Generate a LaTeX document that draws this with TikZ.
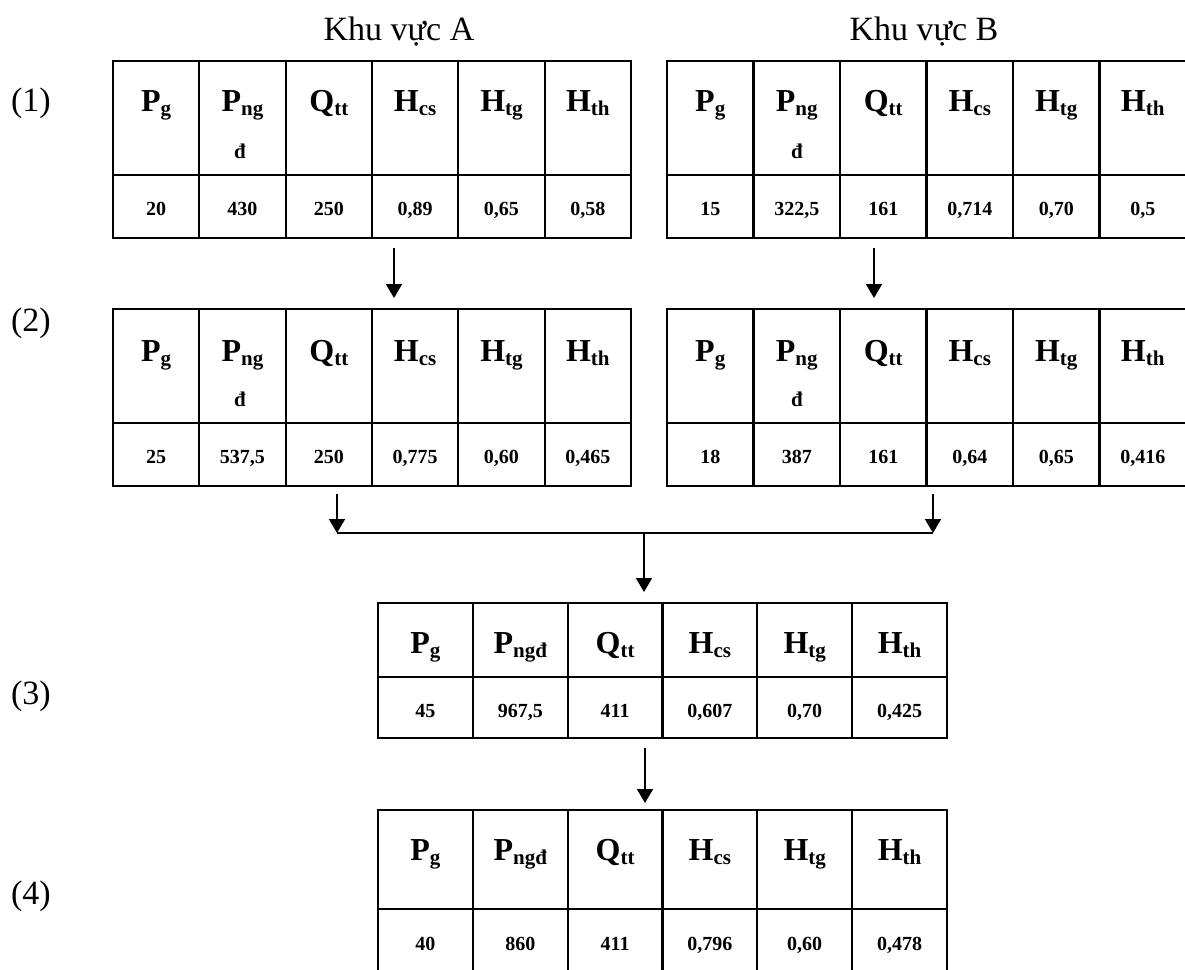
\documentclass[tikz,border=0pt]{standalone}
\usepackage{fontspec}
\setmainfont{Liberation Serif}
\usetikzlibrary{arrows.meta}
\newcommand\Hd[2]{#1\raisebox{-4pt}{\fontsize{21}{21}\selectfont #2}}
\newcommand\mkgrid[6]{%
  \node[frame, anchor=north west, minimum width={6*#3}, minimum height={#6-#4}] (#1) at (#2,#4) {};
  \draw[gridline] (#2,#5) -- ({#2+6*#3},#5);
  \foreach \i in {1,...,5} {\draw[gridline] ({#2+\i*#3},#4) -- ({#2+\i*#3},#6);}
}
\newcommand\mkrow[6]{% name, style, x0, cw, baseline, list
  \foreach \t [count=\i] in {#6} {\node[#2] (#1\i) at ({#3+(\i-0.5)*#4},#5) {\t};}
}
\tikzset{
  frame/.style={draw, line width=2.3pt, inner sep=0pt, outer sep=0pt},
  gridline/.style={line width=2.3pt},
  hd/.style={anchor=base, inner sep=0pt, font=\fontsize{32}{32}\selectfont\bfseries},
  sub2/.style={anchor=base, inner sep=0pt, font=\fontsize{21}{21}\selectfont\bfseries},
  val/.style={anchor=base, inner sep=0pt, font=\fontsize{20}{20}\selectfont\bfseries},
  lbl/.style={anchor=base, inner sep=0pt, font=\fontsize{34}{34}\selectfont},
  arr/.style={line width=1.8pt, -{Triangle[width=16pt,length=14pt]}},
  link/.style={line width=1.8pt},
}
\begin{document}
\begin{tikzpicture}[x=1pt,y=-1pt]
\useasboundingbox (0,0) rectangle (1185,969);
% titles and step labels
\node[lbl] (kA) at (399,40) {Khu vực A};
\node[lbl] (kB) at (924,40) {Khu vực B};
\node[lbl] (s1) at (31,111) {(1)};
\node[lbl] (s2) at (31,331) {(2)};
\node[lbl] (s3) at (31,704) {(3)};
\node[lbl] (s4) at (31,904) {(4)};
% table A1
\mkgrid{A1}{113}{86.33}{61}{175}{238}
\mkrow{A1h}{hd}{113}{86.33}{111}{\Hd{P}{g},\Hd{P}{ng},\Hd{Q}{tt},\Hd{H}{cs},\Hd{H}{tg},\Hd{H}{th}}
\node[sub2] (A1d) at (240,158) {đ};
\mkrow{A1v}{val}{113}{86.33}{215}{20,430,250,{0,89},{0,65},{0,58}}
% table B1
\mkgrid{B1}{667}{86.5}{61}{175}{238}
\mkrow{B1h}{hd}{667}{86.5}{111}{\Hd{P}{g},\Hd{P}{ng},\Hd{Q}{tt},\Hd{H}{cs},\Hd{H}{tg},\Hd{H}{th}}
\node[sub2] (B1d) at (797,158) {đ};
\mkrow{B1v}{val}{667}{86.5}{215}{15,{322,5},161,{0,714},{0,70},{0,5}}
% table A2
\mkgrid{A2}{113}{86.33}{309}{423}{486}
\mkrow{A2h}{hd}{113}{86.33}{361}{\Hd{P}{g},\Hd{P}{ng},\Hd{Q}{tt},\Hd{H}{cs},\Hd{H}{tg},\Hd{H}{th}}
\node[sub2] (A2d) at (240,406) {đ};
\mkrow{A2v}{val}{113}{86.33}{463}{25,{537,5},250,{0,775},{0,60},{0,465}}
% table B2
\mkgrid{B2}{667}{86.5}{309}{423}{486}
\mkrow{B2h}{hd}{667}{86.5}{361}{\Hd{P}{g},\Hd{P}{ng},\Hd{Q}{tt},\Hd{H}{cs},\Hd{H}{tg},\Hd{H}{th}}
\node[sub2] (B2d) at (797,406) {đ};
\mkrow{B2v}{val}{667}{86.5}{463}{18,387,161,{0,64},{0,65},{0,416}}
% table 3
\mkgrid{T3}{378}{94.83}{603}{677}{738}
\mkrow{T3h}{hd}{378}{94.83}{653}{\Hd{P}{g},\Hd{P}{ngđ},\Hd{Q}{tt},\Hd{H}{cs},\Hd{H}{tg},\Hd{H}{th}}
\mkrow{T3v}{val}{378}{94.83}{717}{45,{967,5},411,{0,607},{0,70},{0,425}}
% table 4
\mkgrid{T4}{378}{94.83}{810}{909}{980}
\mkrow{T4h}{hd}{378}{94.83}{860}{\Hd{P}{g},\Hd{P}{ngđ},\Hd{Q}{tt},\Hd{H}{cs},\Hd{H}{tg},\Hd{H}{th}}
\mkrow{T4v}{val}{378}{94.83}{950}{40,860,411,{0,796},{0,60},{0,478}}
% connectors
\coordinate (a1o) at (394,248); \coordinate (a2i) at (394,298);
\coordinate (b1o) at (874,248); \coordinate (b2i) at (874,298);
\coordinate (a2o) at (337,494); \coordinate (jl) at (337,533);
\coordinate (b2o) at (933,494); \coordinate (jr) at (933,533);
\coordinate (jc) at (644,533); \coordinate (t3i) at (644,592);
\coordinate (t3o) at (645,748); \coordinate (t4i) at (645,803);
\draw[arr] (a1o) -- (a2i);
\draw[arr] (b1o) -- (b2i);
\draw[arr] (a2o) -- (jl);
\draw[arr] (b2o) -- (jr);
\draw[link] (jl) -- (jr);
\draw[arr] (jc) -- (t3i);
\draw[arr] (t3o) -- (t4i);
\end{tikzpicture}
\end{document}
